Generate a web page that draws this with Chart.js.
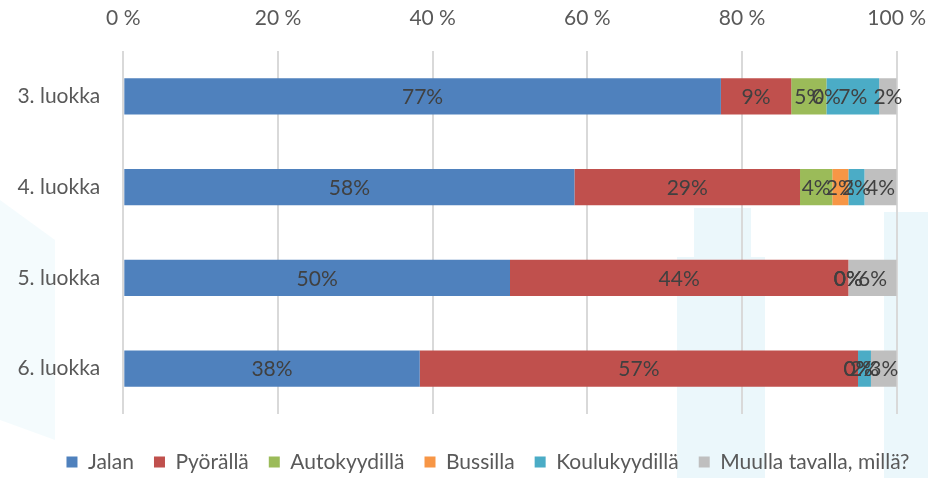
<!DOCTYPE html>
<html>
<head>
<meta charset="utf-8">
<script src="https://cdn.jsdelivr.net/npm/chart.js@4/dist/chart.umd.min.js"></script>
<style>
  html, body { margin: 0; padding: 0; background: #fff; }
  #wrap { width: 928px; height: 478px; }
</style>
</head>
<body>
<div id="wrap"><canvas id="kulkuChart" width="928" height="478"></canvas></div>
<script>
// Luokat ja kulkutavat (osuudet %)
const luokat = ['3. luokka', '4. luokka', '5. luokka', '6. luokka'];
const jalan = [77.27, 58.33, 50.0, 38.33];
const pyoralla = [9.09, 29.17, 43.75, 56.67];
const autokyydilla = [4.55, 4.17, 0, 0];
const bussilla = [0, 2.08, 0, 0];
const koulukyydilla = [6.82, 2.08, 0, 1.67];
const muulla = [2.27, 4.17, 6.25, 3.33];
const xTicks = [0, 20, 40, 60, 80, 100];

const fontti = 'Lato';

// Vaaleat taustakuviot
const taustaPlugin = {
    id: 'tausta',
    beforeDraw(chart) {
        const c = chart.ctx;
        c.save();
        c.fillStyle = 'rgba(205, 236, 244, 0.4)';
        c.fillRect(677, 257, 88, 221);
        c.fillRect(694, 208, 57, 49);
        c.fillRect(884, 212, 44, 266);
        c.fillStyle = 'rgba(205, 236, 244, 0.22)';
        c.beginPath();
        c.moveTo(0, 200);
        c.lineTo(55, 240);
        c.lineTo(55, 440);
        c.lineTo(0, 420);
        c.closePath();
        c.fill();
        c.restore();
    }
};

// Legendan siirto kuvan mukaiseen kohtaan
const legendaPlugin = {
    id: 'legendaSiirto',
    afterLayout(chart) {
        const lg = chart.legend;
        if (!lg || !lg.lineWidths) return;
        const pad = lg.options.labels.padding;
        const start = (lg.left + pad + lg.right - lg.lineWidths[0]) / 2;
        const center = start + (lg.lineWidths[0] - pad) / 2;
        const dx = 488 - center;
        const dy = 462 - (lg.top + pad + lg.options.labels.font.size / 2);
        lg.left += dx; lg.right += dx;
        lg.top += dy; lg.bottom += dy;
    }
};

// Arvot palkkien keskelle
const arvoPlugin = {
    id: 'arvot',
    afterDatasetsDraw(chart) {
        const c = chart.ctx;
        c.save();
        c.font = '21px ' + fontti;
        c.fillStyle = '#404040';
        c.textAlign = 'center';
        c.textBaseline = 'middle';
        chart.data.datasets.forEach((ds, i) => {
            const meta = chart.getDatasetMeta(i);
            meta.data.forEach((bar, j) => {
                const x = (bar.x + bar.base) / 2;
                c.fillText(Math.round(ds.data[j]) + '%', x, bar.y + 1);
            });
        });
        c.restore();
    }
};

const data = {
    labels: luokat,
    datasets: [
        { label: 'Jalan', data: jalan, backgroundColor: '#4F81BD' },
        { label: 'Pyörällä', data: pyoralla, backgroundColor: '#C0504D' },
        { label: 'Autokyydillä', data: autokyydilla, backgroundColor: '#9BBB59' },
        { label: 'Bussilla', data: bussilla, backgroundColor: '#F79646' },
        { label: 'Koulukyydillä', data: koulukyydilla, backgroundColor: '#4BACC6' },
        { label: 'Muulla tavalla, millä?', data: muulla, backgroundColor: '#BFBFBF' },
    ],
};

const kulkuChart = new Chart(document.getElementById('kulkuChart').getContext('2d'), {
    type: 'bar',
    data: data,
    plugins: [taustaPlugin, legendaPlugin, arvoPlugin],
    options: {
        indexAxis: 'y',
        responsive: false,
        animation: false,
        layout: { padding: { left: 0, right: 31, top: 0, bottom: 20 } },
        datasets: { bar: { categoryPercentage: 1, barPercentage: 0.4, borderWidth: 0 } },
        scales: {
            x: {
                position: 'top',
                stacked: true,
                min: 0,
                max: 100,
                afterFit: (s) => {
                    s.height = 51;
                    s.paddingLeft = 0;
                    s.paddingRight = 0;
                },
                afterBuildTicks: (s) => { s.ticks = xTicks.map((v) => ({ value: v })); },
                ticks: {
                    color: '#595959',
                    font: { family: fontti, size: 21 },
                    padding: 20,
                    callback: (v) => v + ' %',
                },
                grid: { color: '#D9D9D9', lineWidth: 2, drawTicks: false },
                border: { display: false },
            },
            y: {
                stacked: true,
                afterFit: (s) => { s.width = 123.3; },
                ticks: {
                    color: '#595959',
                    font: { family: fontti, size: 21 },
                    padding: 23,
                },
                grid: { display: false, drawTicks: false },
                border: { display: false },
            },
        },
        plugins: {
            legend: {
                position: 'bottom',
                labels: {
                    color: '#595959',
                    font: { family: fontti, size: 21 },
                    boxWidth: 11,
                    boxHeight: 11,
                    padding: 20,
                },
            },
            tooltip: { enabled: false },
        },
    },
});

// Piirtoalue kohdalleen: oikea reuna 896.7, alareuna 414
for (let k = 0; k < 4; k++) {
    const ca = kulkuChart.chartArea;
    const eroAla = ca.bottom - 414;
    const eroOikea = ca.right - 896.7;
    if (Math.abs(eroAla) < 0.5 && Math.abs(eroOikea) < 0.5) break;
    kulkuChart.options.layout.padding.bottom += eroAla;
    kulkuChart.options.layout.padding.right += eroOikea;
    kulkuChart.update('none');
}
</script>
</body>
</html>
